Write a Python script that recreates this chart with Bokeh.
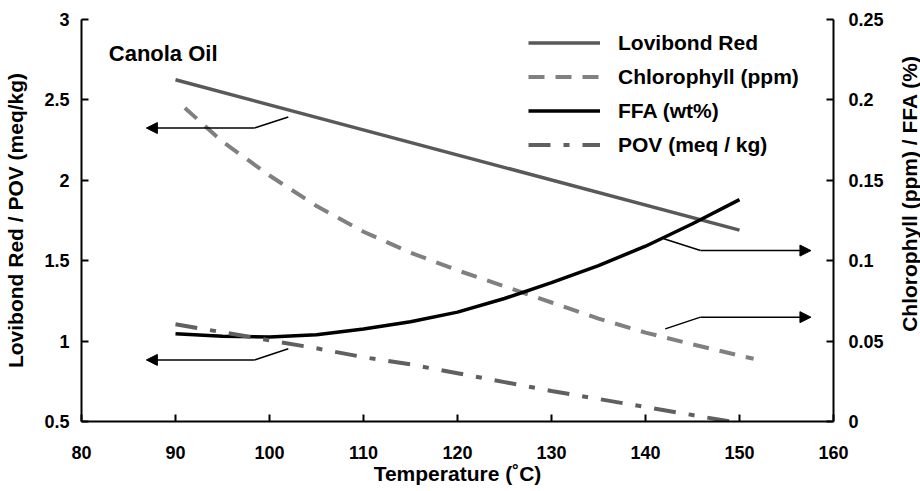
import math
from bokeh.plotting import figure
from bokeh.layouts import row
from bokeh.models import (Range1d, LinearAxis, FixedTicker, Legend, LegendItem,
                          Arrow, NormalHead, Label)
from bokeh.embed import file_html
from bokeh.resources import INLINE

# ---------------- data ----------------
lovi_t = [90, 150]
lovi_v = [2.625, 1.69]

chl_t = [91, 95, 100, 105, 110, 115, 120, 125, 130, 135, 140, 145, 150, 151.5]
chl_v = [0.195, 0.174, 0.153, 0.134, 0.118, 0.105, 0.094, 0.084, 0.074, 0.064,
         0.0553, 0.048, 0.041, 0.039]

ffa_t = [90, 95, 100, 105, 110, 115, 120, 125, 130, 135, 140, 145, 150]
ffa_v = [0.0545, 0.0530, 0.0525, 0.0540, 0.0575, 0.062, 0.068, 0.0765, 0.0864,
         0.097, 0.109, 0.123, 0.138]

pov_t = [90, 95, 100, 105, 110, 115, 120, 125, 130, 135, 140, 145, 149]
pov_v = [1.105, 1.055, 1.005, 0.955, 0.90, 0.855, 0.80, 0.745, 0.69, 0.64,
         0.59, 0.54, 0.50]

x_ticks = [80, 90, 100, 110, 120, 130, 140, 150, 160]
left_ticks = [0.5, 1, 1.5, 2, 2.5, 3]
left_tick_labels = ["0.5", "1", "1.5", "2", "2.5", "3"]
right_ticks = [0, 0.05, 0.1, 0.15, 0.2, 0.25]
right_tick_labels = ["0", "0.05", "0.1", "0.15", "0.2", "0.25"]

# annotation arrows: (diag start, bend, tip)
arrows_left = [
    ((102.0, 2.394), (98.4, 2.325), (86.9, 2.325)),
    ((102.0, 0.952), (98.4, 0.883), (86.9, 0.883)),
]
arrows_right = [
    ((141.95, 0.1136), (145.85, 0.1063), (157.6, 0.1063)),
    ((142.1, 0.0576), (145.85, 0.0649), (157.6, 0.0649)),
]

FONT = "Liberation Sans"

p = figure(width=895, height=491, x_range=Range1d(80, 160), y_range=Range1d(0.5, 3),
           output_backend="svg", toolbar_location=None,
           min_border_left=81, min_border_right=62, min_border_top=19,
           min_border_bottom=70)
p.extra_y_ranges = {"right": Range1d(0, 0.25)}
p.outline_line_color = None
p.xgrid.visible = False
p.ygrid.visible = False
p.background_fill_color = "white"
p.border_fill_color = "white"

right = LinearAxis(y_range_name="right")
p.add_layout(right, "right")

def style_axis(ax, ticks, labels):
    ax.ticker = FixedTicker(ticks=ticks)
    ax.major_label_overrides = {t: l for t, l in zip(ticks, labels)}
    ax.axis_line_color = "black"
    ax.axis_line_width = 2
    ax.major_tick_line_color = "black"
    ax.major_tick_line_width = 2
    ax.major_tick_in = 7
    ax.major_tick_out = 0
    ax.minor_tick_line_color = None
    ax.major_label_text_font = FONT
    ax.major_label_text_font_style = "bold"
    ax.major_label_text_font_size = "18px"
    ax.major_label_text_color = "black"
    ax.axis_label_text_font = FONT
    ax.axis_label_text_font_style = "bold"
    ax.axis_label_text_font_size = "21px"
    ax.axis_label_text_color = "black"

xa = p.xaxis[0]
style_axis(xa, x_ticks, [str(t) for t in x_ticks])
xa.axis_label = "Temperature (˚C)"
xa.major_label_standoff = 24
xa.axis_label_standoff = 0

la = p.yaxis[0]
style_axis(la, left_ticks, left_tick_labels)
la.axis_label = "Lovibond Red / POV (meq/kg)"
la.major_label_standoff = 12
la.axis_label_standoff = 14

style_axis(right, right_ticks, right_tick_labels)
right.major_label_standoff = 15

# ---------------- series ----------------
r_lovi = p.line(lovi_t, lovi_v, line_color="#595959", line_width=3.5)
r_chl = p.line(chl_t, chl_v, line_color="#808080", line_width=4,
               line_dash="16 11", y_range_name="right")
r_ffa = p.line(ffa_t, ffa_v, line_color="black", line_width=3.5,
               y_range_name="right")
r_pov = p.line(pov_t, pov_v, line_color="#606060", line_width=4,
               line_dash="22 13 6 13")

# ---------------- arrows ----------------
for arrs, rng in ((arrows_left, "default"), (arrows_right, "right")):
    for (a, b, c) in arrs:
        p.segment(x0=[a[0]], y0=[a[1]], x1=[b[0]], y1=[b[1]], line_color="black",
                  line_width=1.5, y_range_name=rng)
        p.add_layout(Arrow(end=NormalHead(size=11, fill_color="black",
                                          line_color="black"),
                           x_start=b[0], y_start=b[1], x_end=c[0], y_end=c[1],
                           line_color="black", line_width=1.5, y_range_name=rng))

# ---------------- title label ----------------
p.add_layout(Label(x=82.9, y=2.7875, text="Canola Oil", text_font=FONT,
                   text_font_style="bold", text_font_size="22px",
                   text_color="black", text_baseline="alphabetic"))

# ---------------- legend ----------------
legend = Legend(items=[
    LegendItem(label="Lovibond Red", renderers=[r_lovi]),
    LegendItem(label="Chlorophyll (ppm)", renderers=[r_chl]),
    LegendItem(label="FFA (wt%)", renderers=[r_ffa]),
    LegendItem(label="POV (meq / kg)", renderers=[r_pov]),
], location=(447, 264))
legend.background_fill_alpha = 0
legend.border_line_color = None
legend.padding = 0
legend.margin = 0
legend.spacing = 9
legend.glyph_width = 72
legend.glyph_height = 25
legend.label_height = 25
legend.label_standoff = 18
legend.label_text_font = FONT
legend.label_text_font_style = "bold"
legend.label_text_font_size = "21px"
legend.label_text_color = "black"
p.add_layout(legend, "center")

# ---------------- right axis title strip (reads bottom-to-top) ----------------
p2 = figure(width=25, height=491, x_range=Range1d(0, 1), y_range=Range1d(0, 1),
            output_backend="svg", toolbar_location=None,
            x_axis_location=None, y_axis_location=None,
            min_border_left=0, min_border_right=0, min_border_top=0,
            min_border_bottom=0)
p2.outline_line_color = None
p2.xgrid.visible = False
p2.ygrid.visible = False
p2.border_fill_color = "white"
p2.add_layout(Label(x=0.55, y=0.567, text="Chlorophyll (ppm) / FFA (%)",
                    angle=math.pi / 2, text_align="center",
                    text_baseline="middle", text_font=FONT,
                    text_font_style="bold", text_font_size="21px",
                    text_color="black"))

layout = row(p, p2, spacing=0)
open("out.html", "w").write(file_html(layout, INLINE))
